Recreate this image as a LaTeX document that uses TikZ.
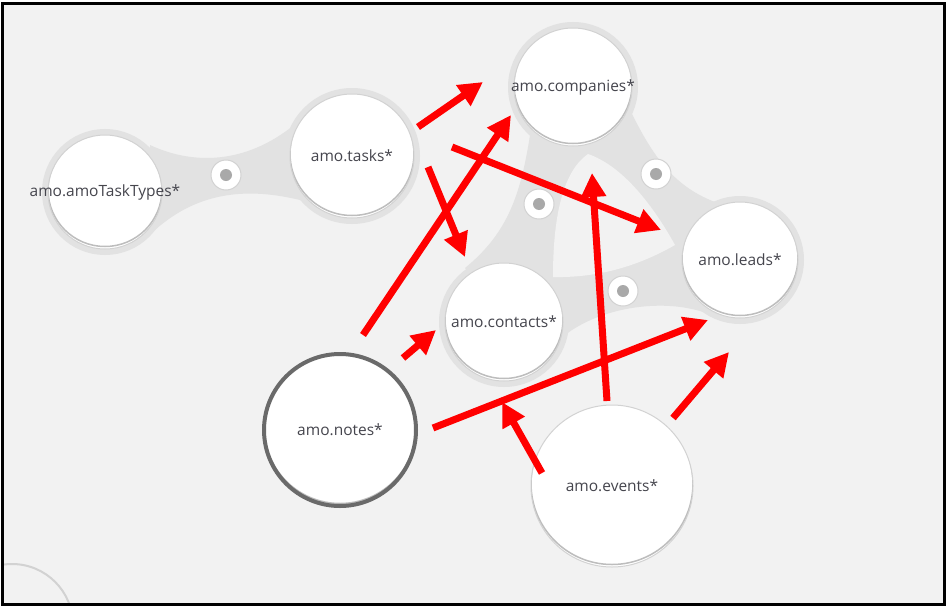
\documentclass[tikz,border=0pt]{standalone}
\usepackage{fontspec}
\setmainfont{Open Sans}
\usepackage{tikz}
\usetikzlibrary{arrows.meta}
\definecolor{paper}{HTML}{F2F2F2}
\definecolor{blobGray}{HTML}{E2E2E2}
\definecolor{rimGray}{HTML}{D2D2D2}
\definecolor{shadeGray}{HTML}{EDEDED}
\definecolor{shadowGray}{HTML}{BDBDBD}
\definecolor{ringGray}{HTML}{6A6A6A}
\definecolor{dotGray}{HTML}{A9A9A9}
\definecolor{labelGray}{HTML}{45454D}
\definecolor{linkRed}{HTML}{FF0000}
\pgfdeclareradialshading{bubble}{\pgfpoint{0bp}{6bp}}{color(0bp)=(white); color(30bp)=(white); color(44bp)=(shadeGray); color(50bp)=(shadeGray)}
\tikzset{
    every node/.style={align=center,},
    every label/.style={font=\fontsize{15.5pt}{18pt}\selectfont, text=labelGray},
    table/.style={circle, inner sep=0pt, minimum size=#1, draw=rimGray, line width=1pt,
        shading=bubble, shade,
        path picture={\draw[shadowGray, line width=1.5pt] ([yshift=2.5pt]path picture bounding box.center) circle (#1/2);}},
    halo table/.style={table=#1, preaction={draw=blobGray, line width=12pt}},
    joint/.style={table=30pt,
        path picture={\fill[dotGray] (path picture bounding box.center) circle (6pt);}},
    link/.style={draw=linkRed, line width=7pt, -{Triangle[length=24pt,width=24pt]}},
}

\begin{document}
\begin{tikzpicture}[x=1pt,y=-1pt]
                \useasboundingbox (0,0) rectangle (948,608);
                \fill[white] (0,0) rectangle (948,608);
                \fill[paper] (2,3) rectangle (944,604);
                \begin{scope}
                    \clip (2,3) rectangle (944,604);
                    \draw[rimGray, line width=2pt] (12,625) circle (61);
                \end{scope}

                \fill[blobGray] (150,145) .. controls (195,166) and (250,164) .. (300,120)
                    -- (300,200) .. controls (250,188) and (200,190) .. (155,230) -- cycle;
                \fill[blobGray] (530,135) .. controls (520,200) and (505,235) .. (465,268)
                    -- (504,322) -- (565,335) .. controls (600,308) and (660,298) .. (703,312)
                    -- (740,260) -- (715,202) .. controls (670,185) and (650,150) .. (630,110)
                    -- (573,87) -- cycle;
                \fill[paper] (588,154) .. controls (565,170) and (553,210) .. (553,277)
                    .. controls (600,278) and (640,265) .. (675,245)
                    .. controls (650,200) and (620,165) .. (588,154) -- cycle;

                \node[halo table=114pt, label=center:amo.amoTaskTypes*] (tasktypes) at (105,192) {};
                \node[halo table=124pt, label=center:amo.tasks*] (tasks) at (352,156) {};
                \node[halo table=118pt, label=center:amo.companies*] (companies) at (573,87) {};
                \node[halo table=116pt, label=center:amo.leads*] (leads) at (740,260) {};
                \node[halo table=118pt, label=center:amo.contacts*] (contacts) at (504,322) {};
                \node[table=152pt, draw=ringGray, line width=4pt, label=center:amo.notes*] (notes) at (340,430) {};
                \node[table=162pt, label=center:amo.events*] (events) at (612,486) {};

                \node[joint] (j1) at (226,175) {};
                \node[joint] (j2) at (539,204) {};
                \node[joint] (j3) at (656,174) {};
                \node[joint] (j4) at (623,291) {};

                \coordinate (tasks-1) at (418,127);
                \coordinate (tasks-2) at (452,147);
                \coordinate (tasks-3) at (428,167);
                \coordinate (notes-1) at (363,335);
                \coordinate (notes-2) at (403,358);
                \coordinate (notes-3) at (433,428);
                \coordinate (events-1) at (607,401);
                \coordinate (events-2) at (542,473);
                \coordinate (events-3) at (673,418);
                \coordinate (companies-1) at (483,82);
                \coordinate (companies-2) at (511,115);
                \coordinate (companies-3) at (592,173);
                \coordinate (leads-1) at (661,230);
                \coordinate (leads-2) at (708,320);
                \coordinate (leads-3) at (729,352);
                \coordinate (contacts-1) at (465,257);
                \coordinate (contacts-2) at (436,330);
                \coordinate (cross) at (502,402);

                \draw[link] (tasks-1) to (companies-1);
                \draw[link] (notes-1) to (companies-2);
                \draw[link] (tasks-2) to (leads-1);
                \draw[link] (tasks-3) to (contacts-1);
                \draw[link] (events-1) to (companies-3);
                \draw[link] (notes-2) to (contacts-2);
                \draw[link] (notes-3) to (leads-2);
                \draw[link] (events-2) to (cross);
                \draw[link] (events-3) to (leads-3);

                \draw[black, line width=3pt] (2,3) rectangle (944,604);
            \end{tikzpicture}
\end{document}
